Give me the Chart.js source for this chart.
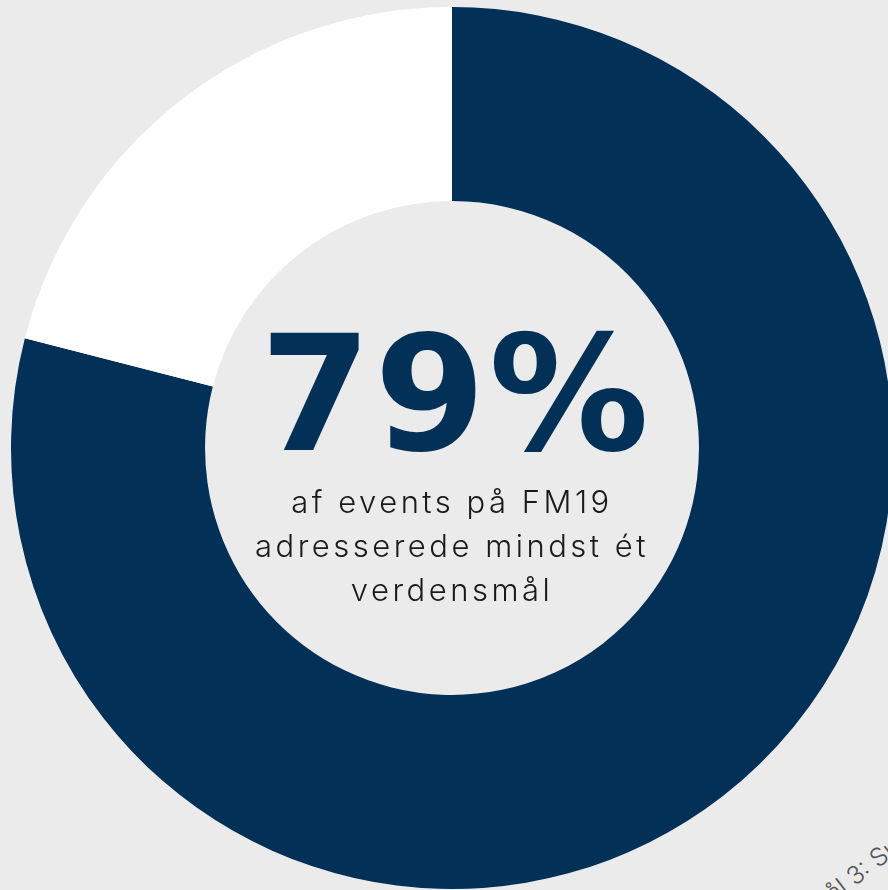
<!DOCTYPE html>
<html>
<head>
<meta charset="utf-8">
<script src="https://cdn.jsdelivr.net/npm/chart.js@4.4.1/dist/chart.umd.min.js"></script>
<style>
  html,body{margin:0;padding:0;background:#ebebeb;}
  body{width:888px;height:890px;position:relative;overflow:hidden;}
  #side{position:absolute;left:745px;top:950px;font-family:Inter, sans-serif;font-weight:300;font-size:25px;color:#555;transform:rotate(-38deg);transform-origin:left bottom;white-space:nowrap;}
  #wrap{position:absolute;left:11px;top:7px;width:882px;height:882px;}
  #big{position:absolute;left:206px;top:302px;width:500px;text-align:center;font-family:"DejaVu Sans", sans-serif;font-weight:700;font-size:160px;line-height:186px;color:#023057;letter-spacing:3px;}
  #sub{position:absolute;left:202px;top:480px;width:500px;text-align:center;font-family:Inter, "Noto Sans", sans-serif;font-weight:300;font-size:31px;line-height:44px;color:#1a1a1a;letter-spacing:3.5px;}
</style>
</head>
<body>
<div id="side">Verdensmål 3: Sundhed og trivsel</div>
<div id="wrap"><canvas id="c"></canvas></div>
<div id="big">79%</div>
<div id="sub">af events på FM19<br>adresserede mindst ét<br>verdensmål</div>
<script>
const labels = ["Adresserede mindst ét verdensmål", "Øvrige events"];
const values = [79, 21];
const colors = ["#023057", "#ffffff"];

new Chart(document.getElementById('c'), {
  type: 'doughnut',
  data: { labels: labels, datasets: [{ data: values, backgroundColor: colors, borderWidth: 0 }] },
  options: {
    responsive: true,
    maintainAspectRatio: false,
    animation: false,
    cutout: '56%',
    layout: { padding: 0 },
    plugins: { legend: { display: false }, tooltip: { enabled: false } }
  }
});
</script>
</body>
</html>
